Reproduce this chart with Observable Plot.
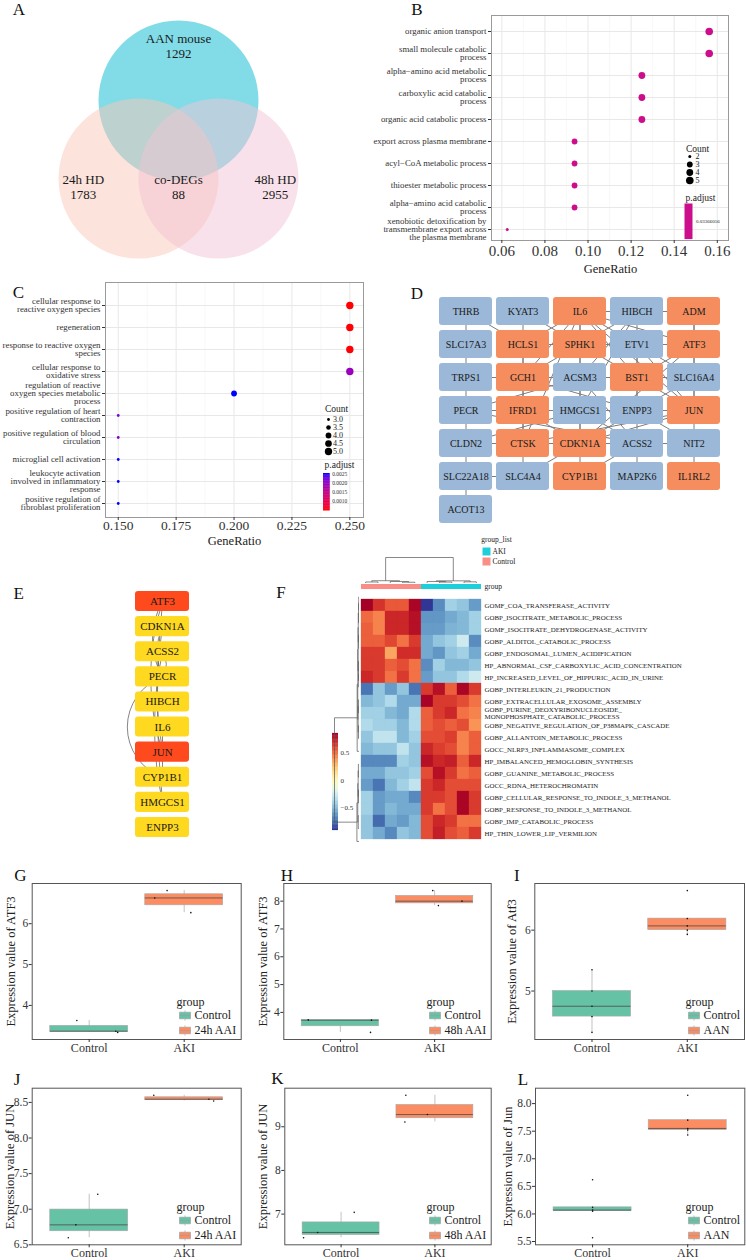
<!DOCTYPE html>
<html>
<head>
<meta charset="utf-8">
<script src="https://cdn.jsdelivr.net/npm/d3@7"></script>
<script src="https://cdn.jsdelivr.net/npm/@observablehq/plot@0.6"></script>
<style>
html,body{margin:0;padding:0;background:#fff;}
#fig{position:relative;width:746px;height:1260px;overflow:hidden;background:#fff;}
.plabel{position:absolute;font-family:"Liberation Serif","Times New Roman",serif;font-size:17px;line-height:1;color:#111;transform:translate(-50%,-50%);}
</style>
</head>
<body>
<div id="fig"></div>
<script>
// ================= DATA =================
// A: Venn diagram
const vennSets = ["AAN mouse", "24h HD", "48h HD"];
const vennCounts = [1292, 1783, 2955];
const vennCoreName = "co-DEGs";
const vennCoreCount = 88;

// B: GO enrichment (co-DEGs)
const goTermsB = [
  "organic anion transport",
  "small molecule catabolic\nprocess",
  "alpha\u2212amino acid metabolic\nprocess",
  "carboxylic acid catabolic\nprocess",
  "organic acid catabolic process",
  "export across plasma membrane",
  "acyl\u2212CoA metabolic process",
  "thioester metabolic process",
  "alpha\u2212amino acid catabolic\nprocess",
  "xenobiotic detoxification by\ntransmembrane export across\nthe plasma membrane"
];
const goRatioB = [0.15625, 0.15625, 0.125, 0.125, 0.125, 0.09375, 0.09375, 0.09375, 0.09375, 0.0625];
const goCountB = [5, 5, 4, 4, 4, 3, 3, 3, 3, 2];
const goPadjB = 0.03366056;
const countLegendB = [2, 3, 4, 5];
const ticksB = [0.06, 0.08, 0.10, 0.12, 0.14, 0.16];
const minorB = [0.07, 0.09, 0.11, 0.13, 0.15];

// C: GO enrichment (hub genes)
const goTermsC = [
  "cellular response to\nreactive oxygen species",
  "regeneration",
  "response to reactive oxygen\nspecies",
  "cellular response to\noxidative stress",
  "regulation of reactive\noxygen species metabolic\nprocess",
  "positive regulation of heart\ncontraction",
  "positive regulation of blood\ncirculation",
  "microglial cell activation",
  "leukocyte activation\ninvolved in inflammatory\nresponse",
  "positive regulation of\nfibroblast proliferation"
];
const goRatioC = [0.25, 0.25, 0.25, 0.25, 0.2, 0.15, 0.15, 0.15, 0.15, 0.15];
const goCountC = [5, 5, 5, 5, 4, 3, 3, 3, 3, 3];
const goPadjC = [0.00048, 0.00049, 0.0005, 0.00197, 0.00255, 0.00214, 0.00212, 0.00255, 0.00255, 0.00255];
const countLegendC = [3.0, 3.5, 4.0, 4.5, 5.0];
const padjTicksC = [0.0010, 0.0015, 0.0020, 0.0025];
const ticksC = [0.150, 0.175, 0.200, 0.225, 0.250];
const minorC = [0.1625, 0.1875, 0.2125, 0.2375];

// D: PPI network of co-DEGs
const netGenes = ["THRB","KYAT3","IL6","HIBCH","ADM",
  "SLC17A3","HCLS1","SPHK1","ETV1","ATF3",
  "TRPS1","GCH1","ACSM3","BST1","SLC16A4",
  "PECR","IFRD1","HMGCS1","ENPP3","JUN",
  "CLDN2","CTSK","CDKN1A","ACSS2","NIT2",
  "SLC22A18","SLC4A4","CYP1B1","MAP2K6","IL1RL2",
  "ACOT13"];
const netRegulation = ["down","down","up","down","up",
  "down","up","up","down","up",
  "down","up","down","up","down",
  "down","up","down","down","up",
  "down","up","up","down","down",
  "down","down","up","down","up",
  "down"];
const netEdges = [
  ["THRB","SLC17A3"],["THRB","HCLS1"],["KYAT3","SPHK1"],["KYAT3","HCLS1"],["IL6","HIBCH"],["HIBCH","ADM"],
  ["IL6","SPHK1"],["IL6","HCLS1"],["IL6","ETV1"],["IL6","ATF3"],["IL6","JUN"],["IL6","CDKN1A"],["IL6","GCH1"],["IL6","CTSK"],["IL6","BST1"],
  ["HIBCH","ACSM3"],["HIBCH","ACSS2"],["HIBCH","HMGCS1"],["HIBCH","SPHK1"],
  ["SPHK1","ATF3"],["SPHK1","BST1"],["SPHK1","ACSM3"],["SPHK1","GCH1"],["SPHK1","HCLS1"],
  ["HCLS1","GCH1"],["HCLS1","CTSK"],["SLC17A3","TRPS1"],
  ["ETV1","ATF3"],["ETV1","BST1"],["ETV1","JUN"],["ETV1","SLC16A4"],
  ["ATF3","JUN"],["ATF3","BST1"],["ATF3","CDKN1A"],["ADM","ATF3"],["ADM","SLC16A4"],
  ["GCH1","ACSM3"],["GCH1","ENPP3"],["GCH1","IFRD1"],["GCH1","TRPS1"],
  ["ACSM3","BST1"],["ACSM3","ACSS2"],["ACSM3","HMGCS1"],["ACSM3","PECR"],
  ["BST1","SLC16A4"],["BST1","ENPP3"],["BST1","JUN"],["SLC16A4","JUN"],["SLC16A4","ENPP3"],
  ["TRPS1","PECR"],["PECR","IFRD1"],["PECR","HMGCS1"],["PECR","CLDN2"],["PECR","ACSS2"],
  ["IFRD1","HMGCS1"],["IFRD1","CTSK"],["IFRD1","CDKN1A"],["IFRD1","JUN"],
  ["HMGCS1","ENPP3"],["HMGCS1","ACSS2"],["HMGCS1","CDKN1A"],
  ["ENPP3","JUN"],["ENPP3","NIT2"],["ENPP3","CDKN1A"],["JUN","CDKN1A"],["JUN","CTSK"],["JUN","NIT2"],
  ["CLDN2","SLC22A18"],["CLDN2","CTSK"],["CLDN2","HMGCS1"],
  ["CTSK","CDKN1A"],["CTSK","SLC4A4"],["CDKN1A","ACSS2"],["CDKN1A","CYP1B1"],["CDKN1A","SLC4A4"],
  ["ACSS2","MAP2K6"],["ACSS2","NIT2"],["NIT2","IL1RL2"],["SLC22A18","SLC4A4"],["SLC22A18","ACOT13"],["CYP1B1","ACSS2"]
];

// E: hub genes
const hubGenes = ["ATF3","CDKN1A","ACSS2","PECR","HIBCH","IL6","JUN","CYP1B1","HMGCS1","ENPP3"];
const hubLevel = ["top","mid","mid","mid","mid","mid","top","mid","mid","mid"];
const hubEdges = [["ATF3","HMGCS1"],["ATF3","PECR"],["ATF3","JUN"],["CDKN1A","PECR"],["CDKN1A","JUN"],
  ["ACSS2","PECR"],["ACSS2","HMGCS1"],["PECR","CYP1B1"],["IL6","JUN"],["JUN","CYP1B1"]];

// F: GSVA heatmap
const heatTerms = [
  "GOMF_COA_TRANSFERASE_ACTIVITY",
  "GOBP_ISOCITRATE_METABOLIC_PROCESS",
  "GOMF_ISOCITRATE_DEHYDROGENASE_ACTIVITY",
  "GOBP_ALDITOL_CATABOLIC_PROCESS",
  "GOBP_ENDOSOMAL_LUMEN_ACIDIFICATION",
  "HP_ABNORMAL_CSF_CARBOXYLIC_ACID_CONCENTRATION",
  "HP_INCREASED_LEVEL_OF_HIPPURIC_ACID_IN_URINE",
  "GOBP_INTERLEUKIN_21_PRODUCTION",
  "GOBP_EXTRACELLULAR_EXOSOME_ASSEMBLY",
  "GOBP_PURINE_DEOXYRIBONUCLEOSIDE_\nMONOPHOSPHATE_CATABOLIC_PROCESS",
  "GOBP_NEGATIVE_REGULATION_OF_P38MAPK_CASCADE",
  "GOBP_ALLANTOIN_METABOLIC_PROCESS",
  "GOCC_NLRP3_INFLAMMASOME_COMPLEX",
  "HP_IMBALANCED_HEMOGLOBIN_SYNTHESIS",
  "GOBP_GUANINE_METABOLIC_PROCESS",
  "GOCC_RDNA_HETEROCHROMATIN",
  "GOBP_CELLULAR_RESPONSE_TO_INDOLE_3_METHANOL",
  "GOBP_RESPONSE_TO_INDOLE_3_METHANOL",
  "GOBP_IMP_CATABOLIC_PROCESS",
  "HP_THIN_LOWER_LIP_VERMILION"
];
const heatSamples = ["C1","C2","C3","C4","C5","A1","A2","A3","A4","A5"];
const heatGroups = ["Control","Control","Control","Control","Control","AKI","AKI","AKI","AKI","AKI"];
const heatValues = [
  [0.86,0.68,0.57,0.57,0.84,-0.90,-0.65,-0.40,-0.45,-0.60],
  [0.52,0.45,0.72,0.72,0.80,-0.62,-0.62,-0.55,-0.50,-0.40],
  [0.55,0.45,0.72,0.72,0.80,-0.60,-0.60,-0.52,-0.50,-0.40],
  [0.55,0.55,0.62,0.50,0.66,-0.55,-0.45,-0.40,-0.25,-0.65],
  [0.66,0.66,0.35,0.70,0.70,-0.55,-0.62,-0.45,-0.40,-0.55],
  [0.66,0.66,0.55,0.60,0.50,-0.65,-0.40,-0.50,-0.50,-0.45],
  [0.72,0.66,0.50,0.66,0.50,-0.60,-0.45,-0.45,-0.35,-0.25],
  [-0.72,-0.45,-0.60,-0.45,-0.72,0.66,0.80,0.55,0.84,0.66],
  [-0.50,-0.45,-0.35,-0.55,-0.55,0.85,0.66,0.66,0.60,0.50],
  [-0.40,-0.40,-0.50,-0.55,-0.35,0.55,0.66,0.72,0.50,0.45],
  [-0.35,-0.40,-0.40,-0.50,-0.35,0.55,0.60,0.55,0.60,0.40],
  [-0.45,-0.30,-0.30,-0.50,-0.40,0.60,0.60,0.65,0.45,0.55],
  [-0.50,-0.45,-0.45,-0.30,-0.45,0.72,0.65,0.60,0.45,0.55],
  [-0.66,-0.66,-0.66,-0.40,-0.45,0.80,0.72,0.75,0.55,0.72],
  [-0.55,-0.55,-0.45,-0.45,-0.40,0.60,0.80,0.66,0.50,0.55],
  [-0.60,-0.72,-0.50,-0.40,-0.30,0.66,0.72,0.60,0.60,0.60],
  [-0.40,-0.60,-0.55,-0.55,-0.66,0.66,0.66,0.60,0.84,0.66],
  [-0.40,-0.60,-0.50,-0.55,-0.55,0.66,0.50,0.60,0.84,0.66],
  [-0.45,-0.75,-0.55,-0.60,-0.50,0.60,0.72,0.66,0.50,0.50],
  [-0.45,-0.55,-0.66,-0.45,-0.50,0.60,0.75,0.60,0.55,0.66]
];
const heatKeyTicks = [-0.5, 0, 0.5];
// dendrograms: [height, left, right], leaves = row / column index
const rowTree = [1.0,
  [0.085, 0, [0.05, [0.03, 1, 2], [0.035, [0.02, 3, 4], [0.025, 5, 6]]]],
  [0.075, 7, [0.05, [0.035, [0.02, 8, 9], [0.025, 10, 11]],
                    [0.04, [0.02, [0.012, 12, 13], 14], [0.03, [0.018, 15, 16], [0.02, 17, [0.01, 18, 19]]]]]]];
const colTree = [1.0, [0.09, [0.04, 0, 1], [0.06, 2, [0.03, 3, 4]]], [0.085, [0.06, 5, [0.035, 6, 7]], [0.045, 8, 9]]];

// G-L: expression box plots
const boxGroups = ["Control", "AKI"];
const atf3_24h_ctrl = [3.63, 3.37, 3.34], atf3_24h_aki = [6.81, 6.63, 6.27];
const atf3_48h_ctrl = [3.73, 3.72, 3.28], atf3_48h_aki = [8.38, 8.00, 7.84];
const atf3_aan_ctrl = [5.35, 5.00, 4.75, 4.58, 4.32], atf3_aan_aki = [6.65, 6.19, 6.07, 6.00, 5.93];
const jun_24h_ctrl = [7.21, 6.78, 6.60], jun_24h_aki = [8.60, 8.545, 8.52];
const jun_48h_ctrl = [7.04, 6.58, 6.46], jun_48h_aki = [9.72, 9.28, 9.11];
const jun_aan_ctrl = [6.62, 6.12, 6.07, 6.05, 5.57], jun_aan_aki = [8.15, 7.70, 7.55, 7.52, 7.43];
// jitter offsets (in x units)
const jit_atf3_24h_ctrl = [-0.13, 0.28, 0.30], jit_atf3_24h_aki = [-0.18, -0.31, 0.07];
const jit_atf3_48h_ctrl = [-0.34, 0.33, 0.32], jit_atf3_48h_aki = [-0.02, 0.29, 0.04];
const jit_atf3_aan_ctrl = [0, 0, 0, 0, 0], jit_atf3_aan_aki = [0, 0, 0, 0, 0];
const jit_jun_24h_ctrl = [0.09, -0.14, -0.22], jit_jun_24h_aki = [-0.32, 0.26, 0.31];
const jit_jun_48h_ctrl = [0.14, -0.25, -0.4], jit_jun_48h_aki = [-0.31, -0.08, -0.32];
const jit_jun_aan_ctrl = [0, 0, 0, 0, 0], jit_jun_aan_aki = [0, 0, 0, 0, 0];

// ================= HELPERS =================
const FONT = '"Liberation Serif","Times New Roman",serif';
const fig = document.getElementById("fig");
function place(el, left, top) {
  el.style.position = "absolute"; el.style.left = left + "px"; el.style.top = top + "px";
  fig.appendChild(el); return el;
}
function st(size) { return {fontFamily: FONT, fontSize: size + "px", background: "transparent", color: "#222", overflow: "visible"}; }
function margins(fr, L, T, W, H) {
  return {width: W, height: H, marginLeft: fr.l - L, marginRight: L + W - fr.r, marginTop: fr.t - T, marginBottom: T + H - fr.b};
}
function letter(t, x, y) {
  const d = document.createElement("div"); d.className = "plabel"; d.textContent = t;
  d.style.left = x + "px"; d.style.top = y + "px"; fig.appendChild(d);
}
// a single text line (title) in its own tiny svg, centred at (cx, cy)
function titleText(t, cx, cy, size, rotate = 0) {
  const p = Plot.plot({width: 10, height: 10, margin: 0, style: st(size),
    marks: [Plot.text([t], {frameAnchor: "middle", lineAnchor: "middle", rotate, text: d => d, fontSize: size, fill: "#222"})]});
  place(p, cx - 5, cy - 5);
}

// ================= A: VENN =================
{
  const R = 80;
  const cx = [0, -0.5, 0.5], cy = [0.975, 0, 0];
  const fills = ["#04BAD0", "#F9C8B8", "#F2C3D5"];
  const circles = vennSets.map((s, i) => ({set: s, x: cx[i], y: cy[i], fill: fills[i]}));
  const labels = [
    {text: vennSets[0] + "\n" + vennCounts[0], x: cx[0], y: cy[0] + 0.68},
    {text: vennSets[1] + "\n" + vennCounts[1], x: cx[1] - 0.69, y: cy[1] - 0.1},
    {text: vennCoreName + "\n" + vennCoreCount, x: d3.mean(cx), y: cy[1] - 0.1},
    {text: vennSets[2] + "\n" + vennCounts[2], x: cx[2] + 0.71, y: cy[2] - 0.1}
  ];
  const p = Plot.plot({width: 370, height: 280, margin: 0, style: st(13),
    x: {domain: [-178 / R, 192 / R], axis: null}, y: {domain: [-102 / R, 178 / R], axis: null},
    marks: [
      Plot.dot(circles, {x: "x", y: "y", r: R, fill: "fill", fillOpacity: 0.5, stroke: null}),
      Plot.text(labels, {x: "x", y: "y", text: "text", fontSize: 13, lineHeight: 1.15, fill: "#1a1a1a"})
    ]});
  place(p, 0, 0);
}

// ================= B: GO dot plot =================
const rB = {type: "linear", domain: [2, 3, 4, 5], range: [1.5, 2.9, 3.4, 3.8]};
{
  const data = goTermsB.map((term, i) => ({term, ratio: goRatioB[i], count: goCountB[i]}));
  const fr = {l: 491, r: 728, t: 15, b: 240};
  const p = Plot.plot({...margins(fr, 370, 0, 376, 280), style: st(9),
    x: {domain: [0.0552, 0.1652]},
    y: {type: "point", domain: goTermsB, padding: 0, insetTop: 14, insetBottom: 10},
    r: rB,
    marks: [
      Plot.gridX(minorB, {stroke: "#F3F3F3", strokeOpacity: 1, strokeWidth: 0.6}),
      Plot.gridX(ticksB, {stroke: "#E8E8E8", strokeOpacity: 1}),
      Plot.gridY({stroke: "#E8E8E8", strokeOpacity: 1}),
      Plot.frame({stroke: "#9a9a9a"}),
      Plot.axisY({tickSize: 3, tickPadding: 2, fontSize: 8.8, lineHeight: 0.9, label: null, color: "#333"}),
      Plot.axisX(ticksB, {tickFormat: d3.format(".2f"), fontSize: 15, tickSize: 3, tickPadding: 2, label: null, color: "#333"}),
      Plot.dot(data, {x: "ratio", y: "term", r: "count", fill: "#CC0E8C"})
    ]});
  place(p, 370, 0);
  titleText("GeneRatio", 609.5, 268, 12.5);
  // Count legend
  titleText("Count", 684 + 13, 147.7, 9.5);
  const lg = Plot.plot({width: 40, height: 45, margin: 0, style: st(8),
    y: {type: "point", domain: countLegendB, range: [15.7, 41], padding: 0, axis: null}, r: rB,
    marks: [
      Plot.dot(countLegendB, {y: d => d, r: d => d, fill: "#000", frameAnchor: "left", dx: 5.3}),
      Plot.text(countLegendB, {y: d => d, text: d => String(d), frameAnchor: "left", dx: 11, textAnchor: "start", fontSize: 8})
    ]});
  place(lg, 684, 140);
  titleText("p.adjust", 684 + 16, 196.7, 9.5);
  const bar = Plot.plot({width: 8, height: 35.6, margin: 0, style: st(5),
    marks: [Plot.frame({fill: "#CC0E8C", stroke: null}),
      Plot.text([goPadjB], {frameAnchor: "right", dx: 3.5, textAnchor: "start", text: d => String(d), fontSize: 5})]});
  place(bar, 684, 202.7);
}

// ================= C: GO dot plot (hub) =================
const rC = {type: "linear", domain: [3, 3.5, 4, 4.5, 5], range: [1.4, 2.3, 2.9, 3.35, 3.7]};
const colC = {type: "linear", domain: [0.00048, 0.00255], range: ["#FF0000", "#0000FF"], interpolate: "lab"};
{
  const data = goTermsC.map((term, i) => ({term, ratio: goRatioC[i], count: goCountC[i], padj: goPadjC[i]}));
  const fr = {l: 105, r: 363, t: 282, b: 517};
  const p = Plot.plot({...margins(fr, 0, 280, 370, 270), style: st(9),
    x: {domain: [0.1445, 0.2559]},
    y: {type: "point", domain: goTermsC, padding: 0, insetTop: 21, insetBottom: 13},
    r: rC, color: colC,
    marks: [
      Plot.gridX(minorC, {stroke: "#F3F3F3", strokeOpacity: 1, strokeWidth: 0.6}),
      Plot.gridX(ticksC, {stroke: "#E8E8E8", strokeOpacity: 1}),
      Plot.gridY({stroke: "#E8E8E8", strokeOpacity: 1}),
      Plot.frame({stroke: "#9a9a9a"}),
      Plot.axisY({tickSize: 3, tickPadding: 2, fontSize: 8.8, lineHeight: 0.9, label: null, color: "#333"}),
      Plot.axisX(ticksC, {tickFormat: d3.format(".3f"), fontSize: 13.5, tickSize: 3, tickPadding: 0, label: null, color: "#333"}),
      Plot.dot(data, {x: "ratio", y: "term", r: "count", fill: "padj"})
    ]});
  place(p, 0, 280);
  titleText("GeneRatio", 234, 539.5, 12.5);
  titleText("Count", 323.3 + 13, 408.3, 9.5);
  const lg = Plot.plot({width: 40, height: 55, margin: 0, style: st(8),
    y: {type: "point", domain: countLegendC, range: [18.3, 51], padding: 0, axis: null}, r: rC,
    marks: [
      Plot.dot(countLegendC, {y: d => d, r: d => d, fill: "#000", frameAnchor: "left", dx: 5}),
      Plot.text(countLegendC, {y: d => d, text: d => d3.format(".1f")(d), frameAnchor: "left", dx: 9.5, textAnchor: "start", fontSize: 8})
    ]});
  place(lg, 323.3, 400);
  titleText("p.adjust", 323.3 + 16, 464.3, 9.5);
  const bar = Plot.plot({width: 6.7, height: 36.6, margin: 0, style: st(5.5),
    y: {domain: colC.domain, range: [36.6, 0]}, color: colC,
    marks: [
      Plot.ruleY(d3.range(0, 61).map(i => colC.domain[0] + i * (colC.domain[1] - colC.domain[0]) / 60), {y: d => d, stroke: d => d, strokeWidth: 1}),
      Plot.axisY(padjTicksC, {anchor: "right", tickSize: 0, tickPadding: 2, fontSize: 5.5, label: null, tickFormat: d3.format(".4f"), color: "#333"})
    ]});
  place(bar, 323.3, 472.7);
}

// ================= D: PPI network =================
{
  const nodes = netGenes.map((gene, i) => ({gene, reg: netRegulation[i], col: i % 5, row: Math.floor(i / 5)}));
  const pos = new Map(nodes.map(n => [n.gene, n]));
  const links = netEdges.map(([a, b]) => ({a: pos.get(a), b: pos.get(b)}));
  const hw = 26.5 / 57, hh = 14 / 33;
  const regFill = {up: "#F58D5E", down: "#9BB8D8"};
  const p = Plot.plot({width: 346, height: 260, margin: 0, style: st(10),
    x: {domain: [0, 4], range: [65.5, 293.5], axis: null},
    y: {domain: [0, 6], range: [31, 229], axis: null},
    marks: [
      Plot.link(links, {x1: d => d.a.col, y1: d => d.a.row, x2: d => d.b.col, y2: d => d.b.row, stroke: "#7d7d7d", strokeWidth: 1}),
      Plot.rect(nodes, {x1: d => d.col - hw, x2: d => d.col + hw, y1: d => d.row - hh, y2: d => d.row + hh, rx: 3, fill: d => regFill[d.reg]}),
      Plot.text(nodes, {x: "col", y: "row", text: "gene", fontSize: 10, fill: "#1a1a1a"})
    ]});
  place(p, 400, 280);
}

// ================= E: hub genes =================
{
  const idx = new Map(hubGenes.map((g, i) => [g, i]));
  const nodes = hubGenes.map((gene, i) => ({gene, level: hubLevel[i], i}));
  const hubFill = {top: "#FF4A1E", mid: "#FFD920"};
  const hubBend = [-6, -30, -18, -25, -10, 35, -12, -70, 0, 0];
  const p = Plot.plot({width: 250, height: 310, margin: 0, style: st(11),
    x: {domain: [-1, 1], range: [108, 216], axis: null},
    y: {domain: [0, 9], range: [61, 287], axis: null},
    marks: [
      ...hubEdges.map((e, k) => Plot.arrow([e], {x1: 0, y1: d => idx.get(d[0]), x2: 0, y2: d => idx.get(d[1]), bend: hubBend[k], headLength: 0, stroke: "#666", strokeWidth: 0.8})),
      Plot.rect(nodes, {x1: -0.5, x2: 0.5, y1: d => d.i - 0.4, y2: d => d.i + 0.4, rx: 3, fill: d => hubFill[d.level]}),
      Plot.text(nodes, {x: 0, y: "i", text: "gene", fontSize: 11, fill: "#1a1a1a"})
    ]});
  place(p, 0, 540);
}

// ================= F: heatmap =================
{
  const rowH = 12.87;
  const fr = {l: 359, r: 482, t: 590, b: 590 + heatTerms.length * rowH};
  const cells = heatTerms.flatMap((term, r) => heatSamples.map((s, c) => ({term, sample: s, value: heatValues[r][c]})));
  const ext = d3.extent(cells, d => d.value);
  const colF = {type: "linear", domain: ext, scheme: "rdylbu", reverse: true};
  const p = Plot.plot({...margins(fr, 300, 530, 446, 325), style: st(7),
    x: {type: "band", domain: heatSamples, padding: 0, axis: null},
    y: {type: "band", domain: heatTerms, padding: 0},
    color: colF,
    marks: [
      Plot.cell(cells, {x: "sample", y: "term", fill: "value", stroke: "value", strokeWidth: 0.3, inset: 0}),
      Plot.axisY({anchor: "right", tickSize: 0, tickPadding: 2, fontSize: 6.9, lineHeight: 1.05, label: null, color: "#222"})
    ]});
  place(p, 300, 530);

  // group annotation bar
  const groupColor = {AKI: "#1DCFDA", Control: "#F98E86"};
  const gb = Plot.plot({width: 123, height: 5, margin: 0, style: st(7.5),
    x: {type: "band", domain: heatSamples, padding: 0, axis: null},
    marks: [
      Plot.cell(heatSamples, {x: d => d, fill: (d, i) => groupColor[heatGroups[i]], inset: 0}),
      Plot.text(["group"], {frameAnchor: "right", dx: 2, textAnchor: "start", text: d => d, fontSize: 7.5})
    ]});
  place(gb, 359, 584);

  // group legend
  const groupsU = ["AKI", "Control"];
  titleText("group_list", 482 + 14, 539, 7.5);
  const gl = Plot.plot({width: 60, height: 32, margin: 0, style: st(7.5),
    y: {type: "point", domain: groupsU, range: [16, 26], padding: 0, axis: null},
    marks: [
      Plot.dot(groupsU, {y: d => d, symbol: "square", r: 4.5, fill: d => groupColor[d], frameAnchor: "left", dx: 4}),
      Plot.text(groupsU, {y: d => d, text: d => d, frameAnchor: "left", dx: 10, textAnchor: "start"})
    ]});
  place(gl, 482, 535);

  // color key
  const key = Plot.plot({width: 6, height: 96, margin: 0, style: st(7),
    y: {domain: ext, range: [96, 0]}, color: colF,
    marks: [
      Plot.ruleY(d3.range(0, 121).map(i => ext[0] + i * (ext[1] - ext[0]) / 120), {y: d => d, stroke: d => d, strokeWidth: 1.2}),
      Plot.axisY(heatKeyTicks, {anchor: "right", tickSize: 0, tickPadding: 2, fontSize: 7, label: null, tickFormat: d => d === 0 ? "0" : d3.format(".1f")(d), color: "#333"})
    ]});
  place(key, 331.7, 733);

  // dendrograms
  function dendro(tree) {
    const segs = [];
    (function rec(n) {
      if (typeof n === "number") return {p: n, h: 0};
      const [h, l, r] = n; const A = rec(l), B = rec(r);
      segs.push({p1: A.p, h1: h, p2: B.p, h2: h});
      segs.push({p1: A.p, h1: A.h, p2: A.p, h2: h});
      segs.push({p1: B.p, h1: B.h, p2: B.p, h2: h});
      return {p: (A.p + B.p) / 2, h};
    })(tree);
    return segs;
  }
  const rs = dendro(rowTree);
  const rd = Plot.plot({width: 25, height: fr.b - fr.t, margin: 0,
    x: {domain: [1, 0], range: [0, 24.5], axis: null},
    y: {domain: [-0.5, heatTerms.length - 0.5], axis: null},
    marks: [Plot.link(rs, {x1: "h1", y1: "p1", x2: "h2", y2: "p2", stroke: "#555", strokeWidth: 0.7})]});
  place(rd, 334, fr.t);
  const cs = dendro(colTree);
  const cd = Plot.plot({width: 123, height: 28, margin: 0,
    x: {domain: [-0.5, heatSamples.length - 0.5], axis: null},
    y: {domain: [0, 1], range: [27.5, 2], axis: null},
    marks: [Plot.link(cs, {x1: "p1", y1: "h1", x2: "p2", y2: "h2", stroke: "#555", strokeWidth: 0.7})]});
  place(cd, 359, 555);
}

// ================= G-L: box plots =================
const boxColors = ["#66C2A5", "#FC8D62"];
const boxKey = {draw(ctx) {
  const w = 5.5, h = 3.3;
  ctx.moveTo(-w, -h); ctx.lineTo(w, -h); ctx.lineTo(w, h); ctx.lineTo(-w, h); ctx.closePath();
  ctx.moveTo(-w, 0); ctx.lineTo(w, 0);
  ctx.moveTo(0, -h); ctx.lineTo(0, -h - 1.8); ctx.moveTo(0, h); ctx.lineTo(0, h + 1.8);
}};
function boxPanel({L, T, W, H, fr, ctrl, aki, jc, ja, ylab, ticks, fmt, titleX, legendLabel, legendRight}) {
  const pts = [...ctrl.map((v, i) => ({g: 0, v, x: 1 + jc[i]})), ...aki.map((v, i) => ({g: 1, v, x: 2 + ja[i]}))];
  const stats = [ctrl, aki].map((vals, g) => {
    const s = vals.slice().sort(d3.ascending);
    const q1 = d3.quantile(s, 0.25), q3 = d3.quantile(s, 0.75), med = d3.quantile(s, 0.5), iqr = q3 - q1;
    const lo = d3.min(s.filter(v => v >= q1 - 1.5 * iqr)), hi = d3.max(s.filter(v => v <= q3 + 1.5 * iqr));
    return {g, pos: g + 1, q1, q3, med, lo, hi};
  });
  const [mn, mx] = d3.extent(ctrl.concat(aki)); const pad = (mx - mn) * 0.05;
  const hb = 0.41;
  const p = Plot.plot({...margins(fr, L, T, W, H), style: st(12),
    x: {domain: [0.4, 2.6]},
    y: {domain: [mn - pad, mx + pad]},
    marks: [
      Plot.ruleX(stats, {x: "pos", y1: "lo", y2: "hi", stroke: "#9a9a9a", strokeWidth: 0.6}),
      Plot.rect(stats, {x1: d => d.pos - hb, x2: d => d.pos + hb, y1: "q1", y2: "q3", fill: d => boxColors[d.g], stroke: "#a8a8a8", strokeWidth: 0.6}),
      Plot.ruleY(stats, {y: "med", x1: d => d.pos - hb, x2: d => d.pos + hb, stroke: "#4a4a4a", strokeWidth: 0.8}),
      Plot.dot(pts, {x: "x", y: "v", r: 0.8, fill: "#111"}),
      Plot.frame({stroke: "#555"}),
      Plot.axisX([1, 2], {tickFormat: i => boxGroups[i - 1], tickSize: 3, tickPadding: 1, fontSize: 12, label: null, color: "#333"}),
      Plot.axisY(ticks, {tickFormat: fmt, tickSize: 3, tickPadding: 1, fontSize: 11.5, label: null, color: "#333"})
    ]});
  place(p, L, T);
  titleText(ylab, titleX, (fr.t + fr.b) / 2, 12.5, -90);
  const labels = [boxGroups[0], legendLabel];
  const lx = fr.r - legendRight, ly = fr.b - 37.3;
  titleText("group", lx + 13, ly, 12);
  const lg = Plot.plot({width: 70, height: 40, margin: 0, style: st(12),
    y: {type: "point", domain: labels, range: [13.3, 28.3], padding: 0, axis: null},
    marks: [
      Plot.dot(labels, {y: d => d, frameAnchor: "left", dx: 7.5, symbol: boxKey, fill: (d, i) => boxColors[i], stroke: "#9a9a9a", strokeWidth: 0.6}),
      Plot.text(labels, {y: d => d, frameAnchor: "left", dx: 17, textAnchor: "start", text: d => d})
    ]});
  place(lg, lx, ly);
}
const fmtInt = d3.format("d"), fmt1 = d3.format(".1f");
boxPanel({L: 0, T: 860, W: 248, H: 200, fr: {l: 31.7, r: 240.7, t: 883, b: 1039}, ctrl: atf3_24h_ctrl, aki: atf3_24h_aki,
  jc: jit_atf3_24h_ctrl, ja: jit_atf3_24h_aki, ylab: "Expression value of ATF3", ticks: [4, 5, 6], fmt: fmtInt, titleX: 10, legendLabel: "24h AAI", legendRight: 63.7});
boxPanel({L: 250, T: 860, W: 248, H: 200, fr: {l: 283.3, r: 490.7, t: 883, b: 1039}, ctrl: atf3_48h_ctrl, aki: atf3_48h_aki,
  jc: jit_atf3_48h_ctrl, ja: jit_atf3_48h_aki, ylab: "Expression value of ATF3", ticks: [4, 5, 6, 7, 8], fmt: fmtInt, titleX: 261.7, legendLabel: "48h AAI", legendRight: 63.7});
boxPanel({L: 496, T: 860, W: 250, H: 200, fr: {l: 534.3, r: 744, t: 883, b: 1039}, ctrl: atf3_aan_ctrl, aki: atf3_aan_aki,
  jc: jit_atf3_aan_ctrl, ja: jit_atf3_aan_aki, ylab: "Expression value of Atf3", ticks: [5, 6], fmt: fmtInt, titleX: 511, legendLabel: "AAN", legendRight: 58});
boxPanel({L: 0, T: 1060, W: 248, H: 200, fr: {l: 31.7, r: 240.7, t: 1087.7, b: 1244.3}, ctrl: jun_24h_ctrl, aki: jun_24h_aki,
  jc: jit_jun_24h_ctrl, ja: jit_jun_24h_aki, ylab: "Expression value of JUN", ticks: [6.5, 7.0, 7.5, 8.0, 8.5], fmt: fmt1, titleX: 9, legendLabel: "24h AAI", legendRight: 63.7});
boxPanel({L: 250, T: 1060, W: 248, H: 200, fr: {l: 284.3, r: 490.7, t: 1087.7, b: 1244.3}, ctrl: jun_48h_ctrl, aki: jun_48h_aki,
  jc: jit_jun_48h_ctrl, ja: jit_jun_48h_aki, ylab: "Expression value of JUN", ticks: [7, 8, 9], fmt: fmtInt, titleX: 261.7, legendLabel: "48h AAI", legendRight: 63.7});
boxPanel({L: 496, T: 1060, W: 250, H: 200, fr: {l: 535, r: 744.3, t: 1087.7, b: 1244.3}, ctrl: jun_aan_ctrl, aki: jun_aan_aki,
  jc: jit_jun_aan_ctrl, ja: jit_jun_aan_aki, ylab: "Expression value of Jun", ticks: [5.5, 6.0, 6.5, 7.0, 7.5, 8.0], fmt: fmt1, titleX: 507, legendLabel: "AAN", legendRight: 58});

// ================= panel letters =================
[["A", 19, 9], ["B", 417, 9], ["C", 18.3, 292.3], ["D", 417, 292.7], ["E", 18.7, 592.7], ["F", 281, 591.7],
 ["G", 20.5, 875], ["H", 286.8, 875], ["I", 516.8, 875], ["J", 17, 1079], ["K", 277.5, 1078], ["L", 523, 1079]]
  .forEach(([t, x, y]) => letter(t, x, y));
</script>
</body>
</html>
